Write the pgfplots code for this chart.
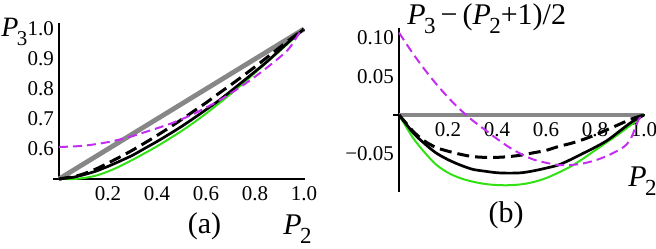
\documentclass[border=0pt]{standalone}
\usepackage{pgfplots}
\pgfplotsset{compat=1.18}
\usepackage{fontspec}
\setmainfont{Liberation Serif}
\definecolor{mag}{RGB}{195,45,240}
\definecolor{grn}{RGB}{50,225,20}
\definecolor{gry}{RGB}{135,135,135}
\newcommand{\Pn}[1]{\textit{P}\kern-0.8pt\raisebox{-4.5pt}{\fontsize{11.5}{12}\selectfont #1}}
\pgfplotsset{
  panel/.style={
    anchor=south west, scale only axis, width=126.175pt,
    xmin=-0.025, xmax=1.005, clip=false,
    x axis line style={-}, y axis line style={-},
    axis line style={line width=0.6pt, black},
    major tick length=0pt,
    tick label style={font=\fontsize{10.5}{11}\selectfont},
    xtick={0.2,0.4,0.6,0.8,1.0},
    xticklabels={0.2,0.4,0.6,0.8,1.0},
  },
  gr/.style={gry, line width=2.4pt},
  gn/.style={grn, line width=1.0pt, smooth},
  bk/.style={black, line width=1.35pt, smooth},
  bd/.style={black, line width=1.5pt, smooth, dash pattern=on 6pt off 3pt},
  mg/.style={mag, line width=1.0pt, smooth, dash pattern=on 4.5pt off 2.5pt},
}
\begin{document}
\begin{tikzpicture}
\path[use as bounding box] (0,0) rectangle (328pt,-124.5pt);
\begin{axis}[panel, at={(26.44pt,-89.5pt)}, height=78pt,
  ymin=0.5, ymax=1.02, axis x line=bottom, axis y line=middle,
  x axis line style={-}, y axis line style={-},
  ytick={0.6,0.7,0.8,0.9,1.0}, yticklabels={0.6,0.7,0.8,0.9,1.0},
  yticklabel style={xshift=1pt}]
\addplot[gr] coordinates {(0,0.5) (1,1)};
\addplot[gn] coordinates {(0,0.5) (0.03,0.500) (0.06,0.500) (0.1,0.503) (0.15,0.511) (0.2,0.525) (0.25,0.543) (0.3,0.564) (0.35,0.586) (0.4,0.609) (0.45,0.634) (0.5,0.660) (0.55,0.688) (0.6,0.718) (0.65,0.750) (0.7,0.783) (0.75,0.818) (0.8,0.854) (0.85,0.890) (0.9,0.926) (0.95,0.963) (1,1.0)};
\addplot[bk] coordinates {(0,0.5) (0.03,0.503) (0.06,0.506) (0.1,0.514) (0.15,0.526) (0.2,0.542) (0.25,0.560) (0.3,0.579) (0.35,0.602) (0.4,0.625) (0.45,0.6495) (0.5,0.675) (0.55,0.7025) (0.6,0.731) (0.65,0.760) (0.7,0.792) (0.75,0.825) (0.8,0.858) (0.85,0.892) (0.9,0.929) (0.95,0.966) (1,1.0)};
\addplot[bd] coordinates {(0,0.5) (0.03,0.504) (0.06,0.508) (0.1,0.517) (0.15,0.533) (0.2,0.553) (0.25,0.574) (0.3,0.596) (0.35,0.620) (0.4,0.645) (0.45,0.671) (0.5,0.698) (0.55,0.726) (0.6,0.754) (0.65,0.784) (0.7,0.813) (0.75,0.843) (0.8,0.874) (0.85,0.906) (0.9,0.938) (0.95,0.970) (1,1.0)};
\addplot[mg] coordinates {(0,0.607) (0.05,0.608) (0.1,0.611) (0.15,0.616) (0.2,0.623) (0.25,0.632) (0.3,0.643) (0.35,0.656) (0.4,0.669) (0.45,0.683) (0.5,0.699) (0.55,0.717) (0.6,0.738) (0.65,0.760) (0.7,0.785) (0.75,0.812) (0.8,0.841) (0.85,0.872) (0.9,0.905) (0.93,0.927) (0.95,0.947) (0.97,0.973) (0.98,0.985) (1,1.0)};
\end{axis}
\begin{axis}[panel, at={(196.44pt,-96pt)}, height=82pt,
  ymin=-0.1, ymax=0.113, axis x line=middle, axis y line=middle,
  x axis line style={-}, y axis line style={-},
  ytick={-0.05,0.05,0.1}, yticklabels={−0.05,0.05,0.10},
  yticklabel style={xshift=1pt}]
\addplot[gr] coordinates {(0,0) (1,0)};
\addplot[gn] coordinates {(0,0) (0.03,-0.016) (0.06,-0.031) (0.1,-0.047) (0.15,-0.064) (0.2,-0.075) (0.25,-0.082) (0.3,-0.0865) (0.35,-0.0895) (0.4,-0.091) (0.45,-0.0912) (0.5,-0.090) (0.55,-0.087) (0.6,-0.082) (0.65,-0.075) (0.7,-0.067) (0.75,-0.057) (0.8,-0.046) (0.85,-0.035) (0.9,-0.024) (0.95,-0.012) (1,0)};
\addplot[bk] coordinates {(0,0) (0.03,-0.012) (0.06,-0.024) (0.1,-0.036) (0.15,-0.049) (0.2,-0.058) (0.25,-0.065) (0.3,-0.0705) (0.35,-0.073) (0.4,-0.075) (0.45,-0.0755) (0.5,-0.075) (0.55,-0.0725) (0.6,-0.069) (0.65,-0.065) (0.7,-0.058) (0.75,-0.050) (0.8,-0.042) (0.85,-0.033) (0.9,-0.021) (0.95,-0.009) (1,0)};
\addplot[bd] coordinates {(0,0) (0.03,-0.011) (0.06,-0.022) (0.1,-0.033) (0.15,-0.042) (0.2,-0.047) (0.25,-0.051) (0.3,-0.054) (0.35,-0.055) (0.4,-0.055) (0.45,-0.054) (0.5,-0.052) (0.55,-0.049) (0.6,-0.046) (0.65,-0.041) (0.7,-0.037) (0.75,-0.032) (0.8,-0.026) (0.85,-0.019) (0.9,-0.012) (0.95,-0.005) (1,0)};
\addplot[mg] coordinates {(0,0.107) (0.05,0.083) (0.1,0.061) (0.15,0.041) (0.2,0.023) (0.25,0.007) (0.3,-0.007) (0.35,-0.019) (0.4,-0.031) (0.45,-0.042) (0.5,-0.051) (0.55,-0.058) (0.6,-0.062) (0.65,-0.065) (0.7,-0.065) (0.75,-0.063) (0.8,-0.059) (0.85,-0.053) (0.9,-0.045) (0.93,-0.038) (0.95,-0.028) (0.97,-0.012) (0.98,-0.005) (1,0)};
\end{axis}
\begin{scope}[x=0.5pt,y=-0.5pt]
\node[anchor=base west, inner sep=0pt, font=\fontsize{14}{15}\selectfont] at (1,37) {\textit{P}\kern-0.8pt\raisebox{-4.5pt}{\fontsize{10.5}{11}\selectfont 3}};
\node[anchor=base west, inner sep=0pt, font=\fontsize{15}{15}\selectfont] at (283,235) {\Pn{2}};
\node[inner sep=0pt, font=\fontsize{15}{15}\selectfont] at (204.5,226) {(a)};
\node[anchor=base west, inner sep=0pt, font=\fontsize{15}{16}\selectfont] at (407,25) {\Pn{3}\hspace{2.5pt}−\hspace{2.5pt}(\Pn{2}+1)/2};
\node[anchor=base west, inner sep=0pt, font=\fontsize{15}{15}\selectfont] at (628,187) {\Pn{2}};
\node[inner sep=0pt, font=\fontsize{15}{15}\selectfont] at (506,215) {(b)};
\end{scope}
\end{tikzpicture}
\end{document}
